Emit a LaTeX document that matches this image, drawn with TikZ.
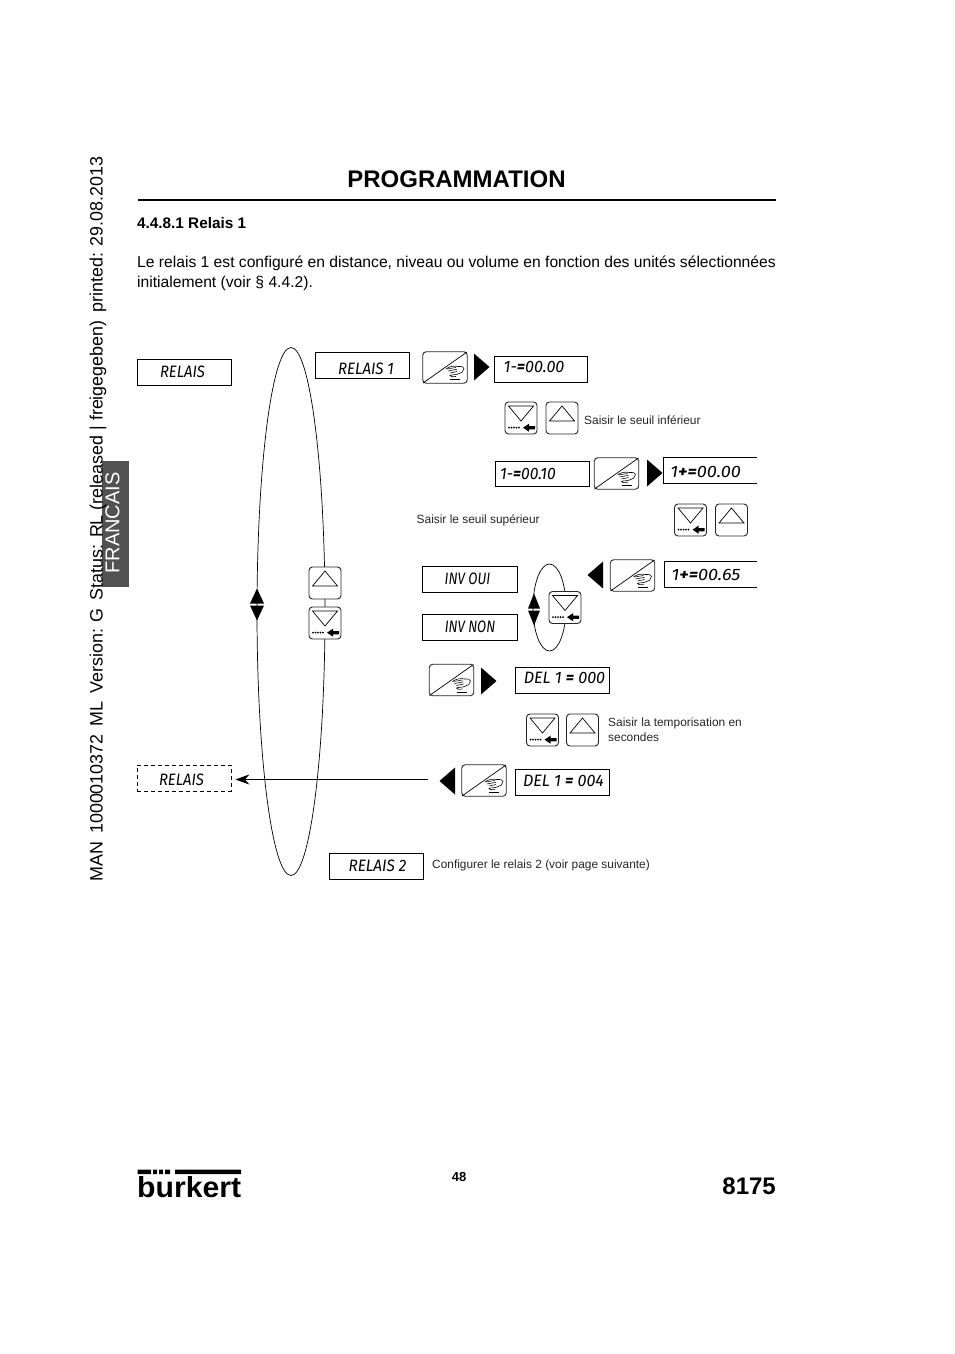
\documentclass[tikz,border=0pt]{standalone}
\usepackage{fontspec}
\usepackage{graphicx}
\setmainfont{Liberation Sans}
\newfontfamily\lcdf{Fira Sans}
\usetikzlibrary{arrows.meta}
\tikzset{
 x=1pt,y=-1pt,
 lcd/.style={draw=black,line width=0.8pt,fill=white,minimum width=94pt,minimum height=26pt,inner sep=0pt,font=\fontsize{16.5}{17}\lcdf\itshape},
 lcddash/.style={lcd,dash pattern=on 4pt off 3pt},
 lcdopen/.style={lcd,draw=none,fill=none,outer sep=0pt},
 btn/.style={draw=black!85,line width=0.9pt,rounded corners=3.5pt,fill=white},
 small/.style={font=\fontsize{11.9}{15}\selectfont,text=black!85,inner sep=0pt,align=left},
 body/.style={font=\fontsize{15.65}{20}\selectfont,inner sep=0pt,anchor=base west},
 tri/.style={fill=black,draw=none},
 loopline/.style={draw=black,line width=0.7pt},
}
% display text: horizontal scale, x offset, y offset, text
\newcommand{\lt}[4]{\smash{\raisebox{\dimexpr-5.5pt-#3pt\relax}{\makebox[0pt]{\kern\dimexpr #2pt*2\relax\scalebox{#1}[1]{#4}}}}}
\newcommand{\eq}[1]{{\fontsize{16.5}{17}\bfseries\selectfont #1}}
% hand button, centre at #1, #2 name
\newcommand{\handbtn}[2]{%
 \node[btn,minimum width=44.5pt,minimum height=31.5pt,inner sep=0pt] (#2) at (#1) {};
 \begin{scope}[shift={(#1)}]
  \draw[line width=0.7pt] (-22,15.5) -- (22,-15.5);
  \draw[line width=0.6pt] (1,1.5) .. controls (4,-1) and (9,-2) .. (13,-1) .. controls (16,-1.5) and (19,-1) .. (19,1) .. controls (19,4) and (16,6) .. (13,6.5) .. controls (11,7.5) and (7,7) .. (5,8) .. controls (5,9.5) and (8,9.5) .. (11,9);
  \draw[line width=0.55pt] (2,1.5) -- (11,0) (3,3.5) -- (12,1.8) (5,5.5) -- (12,4);
  \draw[line width=0.8pt] (5,12) -- (15,12);
 \end{scope}}
\newcommand{\upbtn}[2]{%
 \node[btn,minimum width=32pt,minimum height=32pt,inner sep=0pt] (#2) at (#1) {};
 \begin{scope}[shift={(#1)}]
  \draw[line width=0.7pt] (-12.5,3) -- (0,-12) -- (12.5,3) -- cycle;
 \end{scope}}
\newcommand{\downbtn}[2]{%
 \node[btn,minimum width=32pt,minimum height=32pt,inner sep=0pt] (#2) at (#1) {};
 \begin{scope}[shift={(#1)}]
  \draw[line width=0.7pt] (-12.5,-12) -- (0,3) -- (12.5,-12) -- cycle;
  \foreach \dx in {-12,-9.5,-7,-4.5,-2} \fill (\dx,9.7) circle (1);
  \fill (2,9.7) -- (8,5.7) -- (8,8) -- (14,8) -- (14,11.4) -- (8,11.4) -- (8,13.7) -- cycle;
 \end{scope}}
\newcommand{\tright}[2]{\fill[tri] (#1-7.5,#2-13.5) -- (#1+8,#2) -- (#1-7.5,#2+13.5) -- cycle;}
\newcommand{\tleft}[2]{\fill[tri] (#1+7.5,#2-13.5) -- (#1-8,#2) -- (#1+7.5,#2+13.5) -- cycle;}
\newcommand{\updown}[3]{\fill[tri] (#1-#3,#2-1) -- (#1,#2-16) -- (#1+#3,#2-1) -- cycle;
 \fill[tri] (#1-#3,#2+1) -- (#1,#2+16) -- (#1+#3,#2+1) -- cycle;}
\newcommand{\openbox}[1]{\draw[line width=0.8pt] (#1.north east) -- (#1.north west) -- (#1.south west) -- (#1.south east);}
\begin{document}
\begin{tikzpicture}
\useasboundingbox (0,0) rectangle (954,1354);
\fill[white] (0,0) rectangle (954,1354);
% side tab
\fill[black!68] (102,461) rectangle (129,587);
\node[rotate=90,text=white,font=\fontsize{20}{20}\selectfont,inner sep=0pt] (lang) at (112.5,523) {FRANCAIS};
\node[rotate=90,font=\fontsize{17.9}{18}\selectfont,inner sep=0pt] (stamp) at (98,519) {MAN\, 1000010372\, ML\, Version: G\, Status: RL (released | freigegeben)\, printed: 29.08.2013};
% header
\node[font=\fontsize{24}{24}\selectfont\bfseries,inner sep=0pt] (title) at (456.5,179) {PROGRAMMATION};
\draw[line width=2pt] (138,199.5) -- (776,199.5);
\node[body,font=\fontsize{15.3}{20}\selectfont\bfseries] (sect) at (137,228) {4.4.8.1 Relais 1};
\node[body] (p1) at (137,267) {Le relais 1 est configuré en distance, niveau ou volume en fonction des unités sélectionnées};
\node[body] (p2) at (137,287) {initialement (voir § 4.4.2).};
% loops
\draw[loopline] (291,611.5) ellipse (34 and 264);
\draw[loopline] (549.5,607.5) ellipse (16.5 and 43.5);
\updown{257}{604.5}{7}
\updown{534}{609.5}{6}
% displays
\node[lcd] (r0) at (184,372.5) {\lt{.9}{-1.5}{-0.5}{RELAIS}};
\node[lcd] (r1) at (362,365.5) {\lt{.91}{4}{3.5}{RELAIS 1}};
\node[lcd,minimum width=93pt] (v1) at (540.5,369) {\lt{.98}{-6.5}{-2}{1-\eq{=}00.00}};
\node[lcd,minimum height=25pt] (v2) at (542,473.5) {\lt{.95}{-14}{0.5}{1-\eq{=}00.10}};
\node[lcdopen,minimum width=93.5pt] (v3) at (710.2,470.5) {\lt{1.1}{-4.5}{1.5}{1\eq{+=}00.00}};
\openbox{v3}
\node[lcdopen,minimum width=93pt,minimum height=25.5pt] (v4) at (710.5,574.5) {\lt{1.1}{-4.5}{0.5}{1\eq{+=}00.65}};
\openbox{v4}
\node[lcd,minimum width=95pt] (i1) at (469.5,579) {\lt{.81}{-2}{0}{INV OUI}};
\node[lcd,minimum width=95pt] (i2) at (469.5,627) {\lt{.8}{0.5}{0}{INV NON}};
\node[lcd] (d1) at (562,680) {\lt{.98}{2.5}{-2}{DEL 1 \eq{=} 000}};
\node[lcd] (d2) at (562,782) {\lt{.98}{1.5}{-1}{DEL 1 \eq{=} 004}};
\node[lcddash] (r3) at (184,778) {\lt{.9}{-2.5}{2}{RELAIS}};
\node[lcd] (r2) at (376,866) {\lt{.93}{1.5}{0}{RELAIS 2}};
% hand buttons and triangles
\handbtn{445,367.5}{h1}\tright{481.5}{367}
\handbtn{616.5,473.5}{h2}\tright{654.5}{473}
\handbtn{632.5,575.5}{h3}\tleft{595.5}{575}
\handbtn{451.5,680}{h4}\tright{488.5}{681}
\handbtn{484,780.5}{h5}\tleft{447.5}{781}
% arrow buttons
\upbtn{325,583}{u0}\downbtn{325,623}{n0}
\downbtn{565,607.5}{n4}
\downbtn{521,418}{n1}\upbtn{562,418}{u1}
\downbtn{690.5,520}{n2}\upbtn{731.5,520}{u2}
\downbtn{542.5,730}{n3}\upbtn{582.5,730}{u3}
% connector
\coordinate (from) at (428,779.5);
\draw[line width=0.7pt,shorten >=4pt,-{Stealth[length=14pt,width=10pt]}] (from) -- (r3.east |- from);
% notes
\node[small,anchor=west] (t1) at (584,420) {Saisir le seuil inférieur};
\node[small,anchor=west] (t2) at (416.5,520.5) {Saisir le seuil supérieur};
\node[small,anchor=west] (t3) at (608,729.5) {Saisir la temporisation en\\secondes};
\node[small,anchor=west] (t4) at (432,865.5) {Configurer le relais 2 (voir page suivante)};
% footer
\node[font=\fontsize{13}{13}\selectfont\bfseries,inner sep=0pt] (pg) at (459,1177) {48};
\node[font=\fontsize{24}{24}\selectfont\bfseries,inner sep=0pt,anchor=east] (mod) at (776,1186) {8175};
\fill (137.5,1169.5) rectangle (151,1174) (153,1169.5) rectangle (157,1174) (159,1169.5) rectangle (163,1174) (165,1169.5) rectangle (170,1174) (175,1169.5) rectangle (241,1174);
\node[font=\fontsize{29}{30}\selectfont\bfseries,inner sep=0pt,anchor=base west] (logo) at (137,1197.5) {\scalebox{1.04}[1]{burkert}};
\end{tikzpicture}
\end{document}
